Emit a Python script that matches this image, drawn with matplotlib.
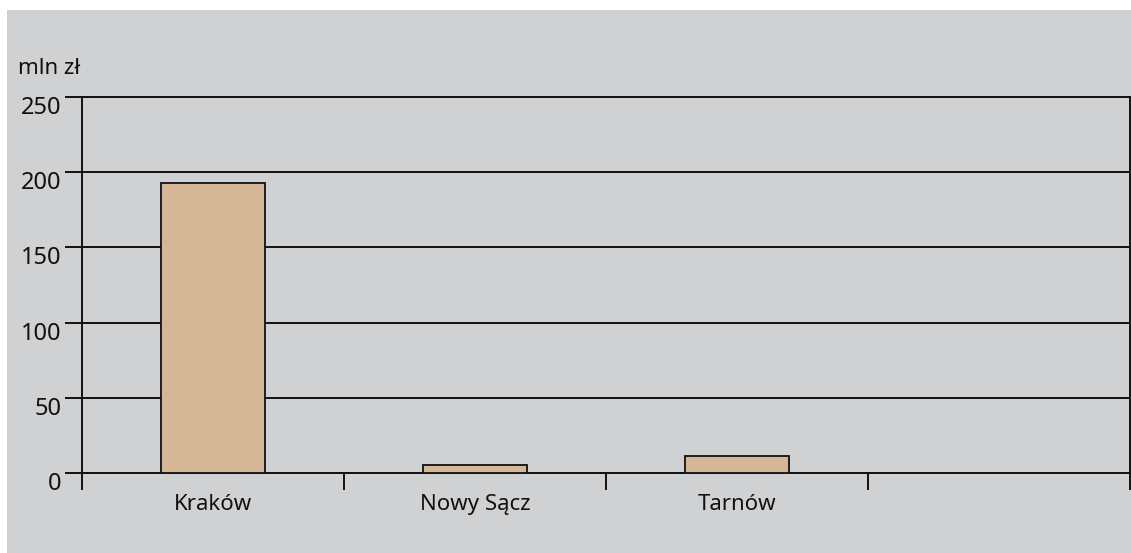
import matplotlib
matplotlib.use('Agg')
import matplotlib.pyplot as plt
import matplotlib.transforms as mtransforms
from matplotlib.patches import Rectangle

# data
cities = ["Kraków", "Nowy Sącz", "Tarnów"]
values = [193, 5.5, 11.5]
n_slots = 4
y_ticks = [0, 50, 100, 150, 200, 250]
unit_label = "mln zł"

plt.rcParams['font.family'] = ['Noto Sans', 'DejaVu Sans']

W, H = 1131, 553
fig = plt.figure(figsize=(W / 100, H / 100), dpi=100, facecolor='white')
# grey panel, white strip at top and left
fig.patches.append(Rectangle((7 / W, 0), 1 - 7 / W, 1 - 10 / H,
                             transform=fig.transFigure, facecolor='#d0d1d3',
                             edgecolor='none', zorder=-10))

ax = fig.add_axes([82 / W, 1 - 473 / H, (1130 - 82) / W, (473 - 97) / H])
ax.set_facecolor('none')

xpos = [i + 0.5 for i in range(len(cities))]
ax.bar(xpos, values, width=0.4, color='#d5b797', edgecolor='#111111',
       linewidth=1.3, zorder=3)

ax.set_xlim(0, n_slots)
ax.set_ylim(0, 250)

ax.set_yticks(y_ticks)
ax.set_yticklabels([str(t) for t in y_ticks], fontsize=17, color='#111111')
ax.yaxis.grid(True, color='#111111', linewidth=1.4, zorder=1)
ax.set_axisbelow(True)

# slot boundaries as major ticks, names as minor labels
ax.set_xticks(range(n_slots + 1))
ax.set_xticklabels([])
ax.set_xticks(xpos, minor=True)
ax.set_xticklabels(cities, minor=True, fontsize=16, color='#111111')
ax.tick_params(axis='x', which='major', length=12, width=1.4, color='#111111')
ax.tick_params(axis='x', which='minor', length=0, pad=15)
ax.tick_params(axis='y', length=12, width=1.4, color='#111111', pad=3)

# y labels sit a little below their gridlines
offset = mtransforms.ScaledTranslation(0, -8 / 100, fig.dpi_scale_trans)
for lab in ax.get_yticklabels():
    lab.set_transform(lab.get_transform() + offset)

for side in ['left', 'right', 'bottom', 'top']:
    ax.spines[side].set_color('#111111')
    ax.spines[side].set_linewidth(1.4)

fig.text(18 / W, 1 - 68 / H, unit_label, fontsize=16, color='#111111',
         va='center', ha='left')

fig.savefig("out.png", dpi=100, facecolor=fig.get_facecolor())
